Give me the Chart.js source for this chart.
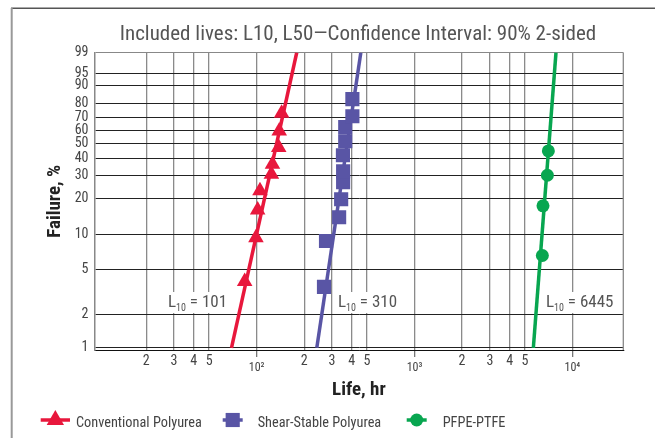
<!DOCTYPE html>
<html><head><meta charset="utf-8">
<script src="https://cdn.jsdelivr.net/npm/chart.js@4/dist/chart.umd.min.js"></script>
<style>html,body{margin:0;padding:0;background:#fff;overflow:hidden}</style>
</head><body>
<canvas id="c" width="655" height="438"></canvas>
<script>
// ---- data ----
const seriesNames = ['Conventional Polyurea', 'Shear-Stable Polyurea', 'PFPE-PTFE'];
const seriesColors = ['#e8173c', '#5955a5', '#08a650'];
const convLife = [84, 99, 101.5, 105, 124, 126, 138, 139, 144];
const convFail = [3.9, 9.4, 16.1, 23.0, 30.8, 36.5, 47.3, 59.5, 72.9];
const shearLife = [267, 275, 333, 343, 353, 353, 352, 364, 364, 404, 404];
const shearFail = [3.5, 8.8, 14.0, 19.7, 26.8, 32.4, 42.1, 51.8, 62.4, 70.7, 82.6];
const pfpeLife = [6450, 6510, 6940, 7040];
const pfpeFail = [6.6, 17.4, 30.3, 45.0];
const fitFail = [1, 99];
const convFit = [69.3, 179.5];
const shearFit = [240.5, 457];
const pfpeFit = [5655, 7869];
const l10Values = [101, 310, 6445];
const yTickPercents = [1, 2, 5, 10, 20, 30, 40, 50, 60, 70, 80, 90, 95, 99];
const xTickValues = [20, 30, 40, 50, 100, 200, 300, 400, 500, 1000, 2000, 3000, 4000, 5000, 10000];
const xTickLabels = ['2', '3', '4', '5', '10²', '2', '3', '4', '5', '10³', '2', '3', '4', '5', '10⁴'];
const titleText = 'Included lives: L10, L50\u2014Confidence Interval: 90% 2-sided';

const FONT = "'Liberation Sans Narrow', 'Roboto Condensed', 'Liberation Sans', sans-serif";
function weib(p) { return Math.log(-Math.log(1 - p / 100)); }
function isDecade(v) { const l = Math.log10(v); return Math.abs(l - Math.round(l)) < 1e-9; }

const pts = (xs, ps) => xs.map((x, i) => ({ x: x, y: weib(ps[i]) }));

const markerRadius = [9, 10, 6.5];

const datasets = [
  { label: seriesNames[0], data: pts(convLife, convFail), pointStyle: 'triangle', pointRadius: 9,
    backgroundColor: seriesColors[0], borderColor: seriesColors[0], borderWidth: 0, showLine: false, order: 1 },
  { label: seriesNames[1], data: pts(shearLife, shearFail), pointStyle: 'rect', pointRadius: 10,
    backgroundColor: seriesColors[1], borderColor: seriesColors[1], borderWidth: 0, showLine: false, order: 1 },
  { label: seriesNames[2], data: pts(pfpeLife, pfpeFail), pointStyle: 'circle', pointRadius: 6.5,
    backgroundColor: seriesColors[2], borderColor: seriesColors[2], borderWidth: 0, showLine: false, order: 1 },
  { label: 'fit0', data: pts(convFit, fitFail), showLine: true, borderColor: seriesColors[0], borderWidth: 3.5, pointRadius: 0, order: 2 },
  { label: 'fit1', data: pts(shearFit, fitFail), showLine: true, borderColor: seriesColors[1], borderWidth: 3.5, pointRadius: 0, order: 2 },
  { label: 'fit2', data: pts(pfpeFit, fitFail), showLine: true, borderColor: seriesColors[2], borderWidth: 3.5, pointRadius: 0, order: 2 }
];

const decorPlugin = {
  id: 'decor',
  beforeDraw(chart) {
    const c = chart.ctx;
    c.save();
    c.fillStyle = '#fff';
    c.fillRect(0, 0, chart.width, chart.height);
    c.strokeStyle = '#555'; c.lineWidth = 1.5;
    c.beginPath(); c.moveTo(11, 8.3); c.lineTo(655, 8.3); c.stroke();
    c.strokeStyle = '#999'; c.lineWidth = 2;
    c.beginPath(); c.moveTo(11.7, 8); c.lineTo(11.7, 438); c.stroke();
    c.fillStyle = '#555';
    c.font = '21px ' + FONT;
    c.textAlign = 'center'; c.textBaseline = 'alphabetic';
    c.fillText(titleText, 358, 39.5);
    c.restore();
  },
  afterDatasetsDraw(chart) {
    const c = chart.ctx, a = chart.chartArea;
    c.save();
    c.strokeStyle = '#888'; c.lineWidth = 1.3;
    c.beginPath(); c.moveTo(a.right, a.top); c.lineTo(a.right, a.bottom); c.stroke();
    const lx = [168, 338, 546];
    const base = 307;
    l10Values.forEach((v, i) => {
      c.font = '17px ' + FONT;
      const wL = c.measureText('L').width;
      const rest = ' = ' + v;
      const wR = c.measureText(rest).width;
      c.font = '10px ' + FONT;
      const wS = c.measureText('10').width;
      const total = wL + wS + wR;
      c.fillStyle = '#fff';
      c.fillRect(lx[i] - 2, base - 15, total + 4, 21);
      c.fillStyle = '#555';
      c.textAlign = 'left'; c.textBaseline = 'alphabetic';
      c.font = '17px ' + FONT;
      c.fillText('L', lx[i], base);
      c.font = '10px ' + FONT;
      c.fillText('10', lx[i] + wL, base + 4);
      c.font = '17px ' + FONT;
      c.fillText(rest, lx[i] + wL + wS, base);
    });
    c.restore();
  },
  afterDraw(chart) {
    const c = chart.ctx;
    c.save();
    const ly = 420;
    const lines = [[40.7, 70], [222.7, 242.7], [406.7, 426.7]];
    const textX = [76, 257.7, 442.7];
    for (let i = 0; i < 3; i++) {
      const col = seriesColors[i];
      c.strokeStyle = col; c.lineWidth = 3.5;
      c.beginPath(); c.moveTo(lines[i][0], ly); c.lineTo(lines[i][1], ly); c.stroke();
      const cx = (lines[i][0] + lines[i][1]) / 2;
      c.fillStyle = col;
      c.beginPath();
      if (i === 0) {
        const r = 10;
        c.moveTo(cx, ly - r); c.lineTo(cx + r * 0.866, ly + r * 0.5); c.lineTo(cx - r * 0.866, ly + r * 0.5); c.closePath();
      } else if (i === 1) {
        const s = markerRadius[1] * Math.SQRT1_2;
        c.rect(cx - s, ly - s, 2 * s, 2 * s);
      } else {
        c.arc(cx, ly, markerRadius[2], 0, Math.PI * 2);
      }
      c.fill();
      c.fillStyle = '#444';
      c.font = '14.3px ' + FONT;
      c.textAlign = 'left'; c.textBaseline = 'alphabetic';
      c.fillText(seriesNames[i], textX[i], 427.3);
    }
    c.restore();
  }
};

new Chart(document.getElementById('c'), {
  type: 'scatter',
  data: { datasets: datasets },
  options: {
    responsive: false, animation: false, devicePixelRatio: 1,
    layout: { padding: { left: 20, right: 31.7, top: 52.5, bottom: 0 } },
    plugins: { legend: { display: false }, title: { display: false }, tooltip: { enabled: false } },
    elements: { line: { tension: 0 } },
    scales: {
      x: {
        type: 'logarithmic', min: 9.4, max: 21000,
        afterFit: s => { s.height = 88; },
        afterBuildTicks: s => { s.ticks = xTickValues.map(v => ({ value: v, major: isDecade(v) })); },
        ticks: {
          autoSkip: false, maxRotation: 0, minRotation: 0, padding: -3, color: '#444',
          font: ctx => (ctx.tick && isDecade(ctx.tick.value))
            ? { family: FONT, size: 12, lineHeight: 2.3 }
            : { family: FONT, size: 14, lineHeight: 1.1 },
          callback: (v, i) => xTickLabels[i]
        },
        grid: {
          color: '#8a8a8a', lineWidth: 1.3, tickLength: 7,
          tickColor: ctx => (ctx.tick && isDecade(ctx.tick.value)) ? '#777' : 'rgba(0,0,0,0)',
          tickWidth: 1.3
        },
        border: { color: '#111', width: 1 },
        title: { display: true, text: 'Life, hr', color: '#222',
          font: { family: FONT, size: 19, weight: 'bold', lineHeight: 1.2 }, padding: { top: 0, bottom: 36.6 } }
      },
      y: {
        type: 'linear', min: weib(1) - 0.045, max: weib(99),
        afterFit: s => { s.width = 74.5; },
        afterBuildTicks: s => { s.ticks = yTickPercents.map(p => ({ value: weib(p) })); },
        ticks: { autoSkip: false, padding: 6, color: '#444', font: { family: FONT, size: 14, lineHeight: 1 },
          callback: (v, i) => String(yTickPercents[i]) },
        grid: { drawTicks: false, lineWidth: 1,
          color: ctx => (ctx.index === yTickPercents.length - 1) ? '#888' : '#222' },
        border: { color: '#888', width: 1.5 },
        title: { display: true, text: 'Failure, %', color: '#222',
          font: { family: FONT, size: 19, weight: 'bold', lineHeight: 1.2 }, padding: { top: 24, bottom: 0 } }
      }
    }
  },
  plugins: [decorPlugin]
});
</script>
</body></html>
